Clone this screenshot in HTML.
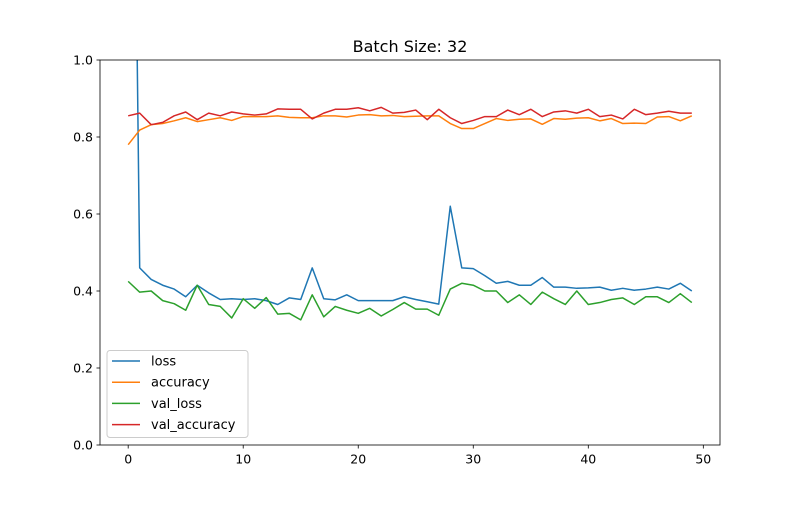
<!DOCTYPE html>
<html><head><meta charset="utf-8"><style>
body{margin:0;background:#fff;font-family:"Liberation Sans","DejaVu Sans",sans-serif;}
svg text{font-family:"DejaVu Sans","Liberation Sans",sans-serif;}
</style></head><body>
<svg id="chart" width="800" height="500" xmlns="http://www.w3.org/2000/svg">
<defs><clipPath id="clip"><rect x="100" y="60" width="620" height="385"/></clipPath></defs>
<text x="410" y="52" text-anchor="middle" font-size="16">Batch Size: 32</text>
<g id="plot" clip-path="url(#clip)"></g>
<g id="axes"></g>
</svg>
<script>
const epochs = Array.from({length:50},(_,i)=>i);
const lossVals = [3.0,0.46,0.43,0.415,0.405,0.385,0.415,0.395,0.378,0.38,0.378,0.38,0.375,0.365,0.382,0.378,0.46,0.38,0.377,0.39,0.375,0.375,0.375,0.375,0.385,0.378,0.372,0.366,0.62,0.46,0.458,0.44,0.42,0.425,0.415,0.415,0.435,0.41,0.41,0.407,0.408,0.41,0.402,0.407,0.402,0.405,0.41,0.405,0.42,0.4];
const accVals = [0.78,0.818,0.832,0.835,0.842,0.85,0.84,0.845,0.85,0.843,0.853,0.853,0.853,0.855,0.851,0.85,0.85,0.855,0.855,0.852,0.857,0.858,0.855,0.856,0.853,0.854,0.855,0.855,0.835,0.822,0.822,0.835,0.848,0.843,0.846,0.847,0.833,0.848,0.846,0.849,0.85,0.842,0.848,0.835,0.836,0.835,0.852,0.853,0.842,0.855];
const valLossVals = [0.425,0.397,0.4,0.375,0.367,0.35,0.415,0.365,0.36,0.33,0.38,0.355,0.383,0.34,0.342,0.325,0.39,0.333,0.36,0.35,0.342,0.355,0.335,0.352,0.37,0.353,0.353,0.337,0.405,0.42,0.415,0.4,0.4,0.37,0.39,0.365,0.397,0.38,0.365,0.4,0.365,0.37,0.378,0.382,0.365,0.385,0.385,0.37,0.393,0.37];
const valAccVals = [0.855,0.862,0.832,0.838,0.855,0.865,0.845,0.862,0.855,0.865,0.86,0.857,0.86,0.873,0.872,0.872,0.847,0.862,0.872,0.872,0.876,0.868,0.877,0.862,0.864,0.87,0.845,0.872,0.85,0.835,0.843,0.853,0.853,0.87,0.858,0.872,0.853,0.865,0.868,0.862,0.872,0.853,0.857,0.847,0.872,0.858,0.862,0.867,0.862,0.862];
const xTicks = [0,10,20,30,40,50];
const yTicks = [0,0.2,0.4,0.6,0.8,1.0];
const yTickLabels = ["0.0","0.2","0.4","0.6","0.8","1.0"];
const seriesNames = ["loss","accuracy","val_loss","val_accuracy"];
const seriesColors = ["#1f77b4","#ff7f0e","#2ca02c","#d62728"];
const seriesData = [lossVals,accVals,valLossVals,valAccVals];

const L=100,R=720,T=60,B=445, xmin=-2.45, xmax=51.45;
const xs=v=>L+(v-xmin)/(xmax-xmin)*(R-L);
const ys=v=>B-v*(B-T);
const NS="http://www.w3.org/2000/svg";
function mk(tag,attrs,parent){const e=document.createElementNS(NS,tag);for(const k in attrs)e.setAttribute(k,attrs[k]);parent.appendChild(e);return e;}
const plot=document.getElementById('plot'), axes=document.getElementById('axes');
seriesData.forEach((d,si)=>{
  const p=mk('polyline',{points:d.map((v,i)=>xs(epochs[i]).toFixed(2)+','+ys(v).toFixed(2)).join(' '),fill:'none',stroke:seriesColors[si],'stroke-width':1.5,'stroke-linejoin':'round'},plot);
  
  
});
const frame=mk('rect',{x:L,y:T,width:R-L,height:B-T,fill:'none',stroke:'#000','stroke-width':0.8},axes);


xTicks.forEach(t=>{
  const x=xs(t);
  mk('line',{x1:x,x2:x,y1:B,y2:B+3.5,stroke:'#000','stroke-width':0.8},axes);
  const tx=mk('text',{x:x,y:B+18.5,'text-anchor':'middle','font-size':12.5},axes);
  tx.textContent=t;
  
  
});
yTicks.forEach((t,i)=>{
  const y=ys(t);
  mk('line',{x1:L-3.5,x2:L,y1:y,y2:y,stroke:'#000','stroke-width':0.8},axes);
  const tx=mk('text',{x:L-7,y:y+4.5,'text-anchor':'end','font-size':12.5},axes);
  tx.textContent=yTickLabels[i];
  
  
});
const lg=mk('g',{},axes);


mk('rect',{x:107,y:350.5,width:141,height:87,rx:3,fill:'#fff','fill-opacity':0.8,stroke:'#ccc','stroke-width':1},lg);
seriesNames.forEach((n,i)=>{
  const y=361+i*21.2;
  mk('line',{x1:112,x2:140,y1:y,y2:y,stroke:seriesColors[i],'stroke-width':1.5},lg);
  const tx=mk('text',{x:151,y:y+4.5,'font-size':13},lg);
  tx.textContent=n;
  
  
});
</script>
</body></html>
